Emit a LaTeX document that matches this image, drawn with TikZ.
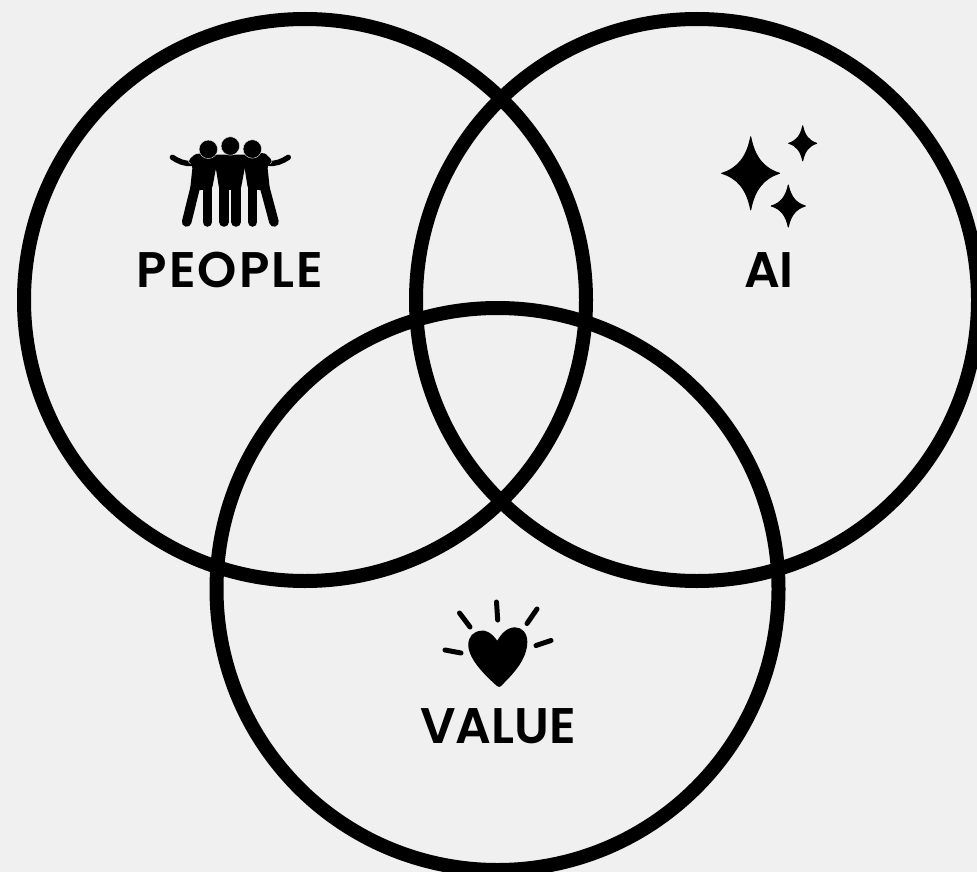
\documentclass[tikz,border=0pt]{standalone}
\usepackage{fontspec}
\setmainfont{Poppins SemiBold}
\definecolor{bgc}{HTML}{F0F0F0}
\tikzset{
  vring/.style={circle,draw=black,line width=14pt,minimum size=562pt,inner sep=0pt,outer sep=0pt},
  vlabel/.style={anchor=base,font=\fontsize{50}{50}\selectfont,text=black,inner sep=0pt},
  limb/.style={line width=9.6pt,line cap=round,draw=black},
  arm/.style={line width=5.4pt,line cap=round,draw=black},
  ray/.style={line width=5pt,line cap=round,draw=black},
  headdot/.style={circle,minimum size=18.5pt,inner sep=0pt,fill=black,draw=bgc,line width=0.4pt},
  torso/.style={fill=black,rounded corners=3pt},
  hair/.style={draw=bgc,line width=0.4pt},
  zoomed/.style={shift={(150,120)},x=0.3333pt,y=-0.3333pt}
}
\newcommand{\sparkle}[4]{%
  \filldraw[black,line width=1pt,line join=round,shift={(#1,#2)}] (0,-#4) .. controls (#3*0.13,-#4*0.45) and (#3*0.45,-#4*0.13) .. (#3,0)
    .. controls (#3*0.45,#4*0.13) and (#3*0.13,#4*0.45) .. (0,#4)
    .. controls (-#3*0.13,#4*0.45) and (-#3*0.45,#4*0.13) .. (-#3,0)
    .. controls (-#3*0.45,-#4*0.13) and (-#3*0.13,-#4*0.45) .. cycle;}
\begin{document}
\begin{tikzpicture}[x=1pt,y=-1pt]
\useasboundingbox (0,0) rectangle (977,872);
\clip (0,0) rectangle (977,872);
\fill[bgc] (0,0) rectangle (977,872);
\node[vring] (people) at (305,300) {};
\node[vring] (ai) at (697,300) {};
\node[vring] (value) at (497.5,589) {};
% people icon, in crop coordinates
\begin{scope}[zoomed]
\draw[limb] (110,306) -- (135,205);
\draw[limb] (172,306) -- (172,200);
\draw[limb] (222,306) -- (222,200);
\draw[limb] (258,306) -- (258,200);
\draw[limb] (308,306) -- (308,200);
\draw[limb] (372,306) -- (345,205);
\draw[arm] (67,112) .. controls (85,124) and (105,133) .. (128,130);
\draw[arm] (415,112) .. controls (397,124) and (377,133) .. (352,130);
\fill[torso] (114,122) -- (138,100) -- (205,108) -- (186,208) -- (120,212) -- (128,136) -- cycle;
\fill[torso] (368,122) -- (344,98) -- (278,108) -- (294,208) -- (360,212) -- (352,136) -- cycle;
\fill[torso] (191,104) -- (292,104) -- (272,210) -- (208,210) -- cycle;
\draw[hair] (128,106) .. controls (114,114) and (110,124) .. (122,132);
\draw[hair] (352,104) .. controls (366,114) and (372,124) .. (360,132);
\node[headdot] (h1) at (175,88) {};
\node[headdot] (h3) at (307,87) {};
\node[headdot] (h2) at (241,78) {};
\end{scope}
% sparkles
\sparkle{750.7}{173.3}{29}{36.5}
\sparkle{802.7}{143.3}{14}{17.5}
\sparkle{788.3}{206}{17}{21}
% heart
\fill[black] (497.3,640.7) .. controls (491,632) and (485,630) .. (481.7,630.7)
  .. controls (473,631) and (468.3,637) .. (468.3,645)
  .. controls (468.3,660) and (488,678) .. (497,686)
  .. controls (498.5,687.3) and (500,687.3) .. (501,686)
  .. controls (512,675) and (527.3,660) .. (527.3,641.7)
  .. controls (527.3,633) and (522,627.3) .. (515,627.3)
  .. controls (507,627.3) and (501,634) .. cycle;
\draw[ray] (496.5,602) -- (497.7,620);
\draw[ray] (459.5,613) -- (470,627);
\draw[ray] (537,609) -- (527,623.5);
\draw[ray] (445,650) -- (461,653);
\draw[ray] (536,645.5) -- (551,640.5);
% labels
\node[vlabel] (lp) at (230,287) {\addfontfeatures{LetterSpace=4}PEOPLE};
\node[vlabel] (la) at (769,287) {AI};
\node[vlabel] (lv) at (498,743) {VALUE};
\end{tikzpicture}
\end{document}
